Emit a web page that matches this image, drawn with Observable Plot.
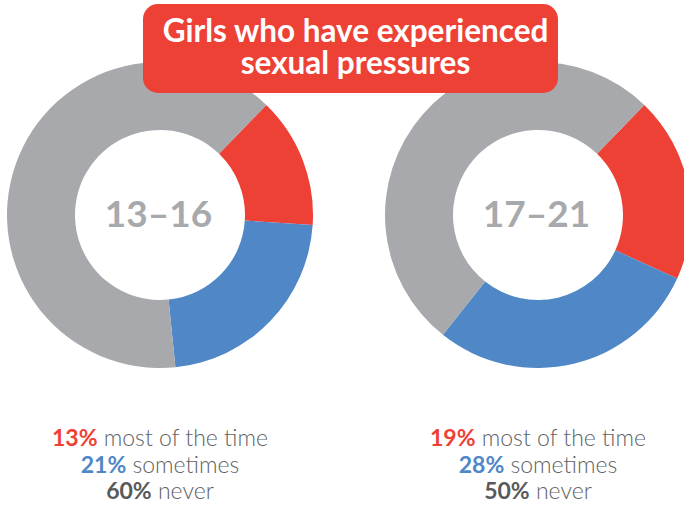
<!DOCTYPE html>
<html>
<head>
<meta charset="utf-8">
<script src="https://cdn.jsdelivr.net/npm/d3@7"></script>
<script src="https://cdn.jsdelivr.net/npm/@observablehq/plot@0.6"></script>
<style>
  html, body { margin: 0; padding: 0; background: #fff; }
  #wrap { position: relative; width: 684px; height: 505px; overflow: hidden; font-family: Lato, "Open Sans", sans-serif; }
  #title { position: absolute; left: 143px; top: 4px; width: 415px; height: 89px; background: #EE4136; border-radius: 15px;
           color: #fff; font-weight: 700; font-size: 31.5px; line-height: 32px; text-align: center; box-sizing: border-box; padding-top: 10px; padding-left: 10px; }
  .legend { position: absolute; top: 424px; width: 320px; text-align: center; font-size: 23px; line-height: 26.5px; color: #616265; font-weight: 300; }
  .legend b { font-weight: 700; }
</style>
</head>
<body>
<div id="wrap">
  <div id="chart"></div>
  <div id="title"></div>
  <div id="legends"></div>
</div>
<script>
const titleLines = ["Girls who have experienced", "sexual pressures"];
const ages = ["13–16", "17–21"];
const categories = ["most of the time", "sometimes", "never"];
const colors = ["#EE4136", "#4F87C7", "#A7A9AC"];
const pctColors = ["#EE4136", "#4F87C7", "#58595B"];
const values1316 = [13, 21, 60];
const values1721 = [19, 28, 50];

const groups = [
  {age: ages[0], values: values1316},
  {age: ages[1], values: values1721}
];

const W = 684, H = 430, cy = 215, rOuter = 153, rInner = 85;
const startDeg = 44;

const donuts = (index, scales, values, dimensions) => {
  const xs = scales.x;
  const g = d3.create("svg:g");
  const pie = d3.pie().sort(null).value(d => d.v)
    .startAngle(startDeg * Math.PI / 180).endAngle(startDeg * Math.PI / 180 + 2 * Math.PI);
  const arc = d3.arc().innerRadius(rInner).outerRadius(rOuter);
  for (const grp of groups) {
    const data = grp.values.map((v, i) => ({v, i}));
    g.append("g")
      .attr("transform", `translate(${xs(grp.age)},${cy})`)
      .selectAll("path")
      .data(pie(data))
      .join("path")
      .attr("d", arc)
      .attr("fill", d => colors[d.data.i]);
  }
  return g.node();
};

const plot = Plot.plot({
  width: W,
  height: H,
  margin: 0,
  x: {type: "point", domain: ages, range: [160, 538], padding: 0, axis: null},
  marks: [
    donuts,
    Plot.text(ages, {x: d => d, frameAnchor: "middle", text: d => d, fontSize: 37, fontWeight: 700,
      fill: "#A7A9AC", fontFamily: "Lato, 'Open Sans', sans-serif", dx: -2})
  ]
});
document.getElementById("chart").appendChild(plot);

document.getElementById("title").innerHTML = titleLines.map(t => `<div>${t}</div>`).join("");

const legends = document.getElementById("legends");
groups.forEach((grp, gi) => {
  const div = document.createElement("div");
  div.className = "legend";
  div.style.left = (gi === 0 ? 0 : 378) + "px";
  div.innerHTML = grp.values.map((v, i) =>
    `<div><b style="color:${pctColors[i]}">${v}%</b> ${categories[i]}</div>`).join("");
  legends.appendChild(div);
});
</script>
</body>
</html>
